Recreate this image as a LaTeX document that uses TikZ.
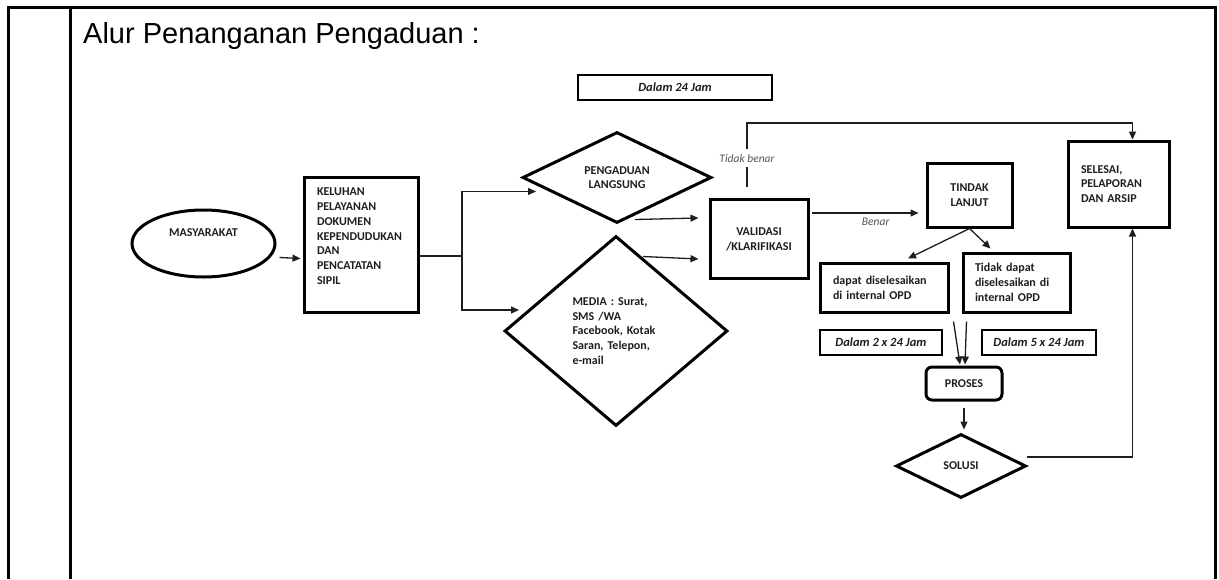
\documentclass[tikz,border=0pt]{standalone}
\usepackage{fontspec}
\setmainfont{Carlito}
\newfontfamily\arialfont{Liberation Sans}
\usepackage{tikz}
\usetikzlibrary{positioning, arrows.meta, calc, shapes.geometric}
\definecolor{InkBlack}{HTML}{1E1E1E}
\definecolor{NoteGray}{HTML}{555555}

\begin{document}
\begin{tikzpicture}[
      x=1pt, y=-1pt,
      >={Triangle[length=8pt,width=7pt]},
      box/.style={draw, line width=3pt, rectangle, inner sep=0pt, text=InkBlack, font=\bfseries\fontsize{12}{14.7}\selectfont},
      decision/.style={draw, line width=3pt, diamond, inner sep=0pt, text=InkBlack, font=\bfseries\fontsize{12}{14.7}\selectfont},
      timebox/.style={draw, line width=2.8pt, inner sep=0pt, minimum height=25pt, text=InkBlack, font=\bfseries\itshape\fontsize{12.5}{14}\selectfont},
      link/.style={line width=1.3pt, InkBlack},
      lbl/.style={font=\itshape\fontsize{11.5}{14}\selectfont, text=NoteGray},
      tableline/.style={line width=3pt}
  ]
    \useasboundingbox (0,0) rectangle (1219,579);
    \draw[tableline] (8,579) -- (8,7) -- (1215,7) -- (1215,579);
    \draw[tableline] (70,7) -- (70,579);
    \node[anchor=base west, inner sep=0pt, font=\arialfont\fontsize{29}{33}\selectfont](title) at (83,43){Alur Penanganan Pengaduan :};

    \node[timebox, line width=1.6pt, minimum width=194pt](dalam24) at (675,87.5){Dalam 24 Jam};
    \node[box, ellipse, minimum width=143pt, minimum height=67pt, text depth=22pt](masy) at (203.5,243.5){MASYARAKAT};
    \node[box, minimum width=114pt, minimum height=135pt, text width=88pt, align=left](keluhan) at (361,244.5){KELUHAN\\PELAYANAN\\DOKUMEN\\KEPENDUDUKAN\\DAN\\PENCATATAN\\SIPIL\\[2pt]\mbox{}};
    \node[decision, minimum width=189pt, minimum height=91pt, align=center](langsung) at (617,177.5){PENGADUAN\\LANGSUNG};
    \node[decision, minimum width=223pt, minimum height=190pt, text width=87pt, align=left](media) at (616,331){MEDIA : Surat,\\SMS /WA\\Facebook, Kotak\\Saran, Telepon,\\e-mail};
    \node[box, minimum width=98pt, minimum height=79pt, align=center](valid) at (759,239){VALIDASI\\/KLARIFIKASI};
    \node[box, minimum width=85pt, minimum height=64pt, align=center](tindak) at (969.5,195){TINDAK\\LANJUT};
    \node[box, minimum width=101pt, minimum height=86pt, text width=75pt, align=left](selesai) at (1118.5,184){SELESAI,\\PELAPORAN\\DAN ARSIP};
    \node[box, minimum width=128pt, minimum height=49pt, text width=102pt, align=left](dapat) at (884,287.5){dapat diselesaikan\\di internal OPD};
    \node[box, minimum width=107pt, minimum height=59pt, text width=83pt, align=left](tidak) at (1016.5,282.5){Tidak dapat\\diselesaikan di\\internal OPD};
    \node[timebox, minimum width=122pt](dalam2) at (881,342.5){Dalam 2 x 24 Jam};
    \node[timebox, minimum width=114pt](dalam5) at (1039,342.5){Dalam 5 x 24 Jam};
    \node[box, rounded corners=6pt, minimum width=76pt, minimum height=33pt](proses) at (964,383.5){PROSES};
    \node[decision, minimum width=130pt, minimum height=64pt](solusi) at (961,466){SOLUSI};

    \coordinate (split) at (462,256);
    \draw[link,->]($(masy.east)+(3,14)$)--($(keluhan.west)+(-2,14)$);
    \draw[link](keluhan.east |- split)--(split);
    \draw[link,->](split) |- ($(langsung.west)+(15,14)$);
    \draw[link,->](split) |- ($(media.west)+(16,-21)$);
    \draw[link,->]($(langsung.south)+(18,-5)$)--($(valid.west)+(-10,-21)$);
    \draw[link,->]($(media.north)+(27,22)$)--($(valid.west)+(-10,20)$);
    \draw[link,->]($(valid.east)+(2,-26)$)--node[lbl, below=1pt, pos=0.6]{Benar}($(tindak.west)+(-7,18)$);
    \draw[link,->]($(valid.north)+(-12,-11)$)--node[lbl, fill=white, inner ysep=5pt, pos=0.45]{Tidak benar}++(0,-64) -| ($(selesai.north)+(14,0)$);
    \draw[link,->](tindak.south)--($(dapat.north)+(24,-3)$);
    \draw[link,->](tindak.south)--($(tidak.north)+(-26,-3)$);
    \draw[link,->]($(dapat.south east)+(4,8)$)--($(proses.north)+(-4,-1)$);
    \draw[link,->]($(tidak.south west)+(5,8)$)--($(proses.north)+(1,-1)$);
    \draw[link,->]($(proses.south)+(0,6)$)--($(solusi.north)+(3,-3)$);
    \draw[link,->]($(solusi.east)+(-1,-9)$) -| ($(selesai.south)+(14,0)$);
  \end{tikzpicture}
\end{document}
